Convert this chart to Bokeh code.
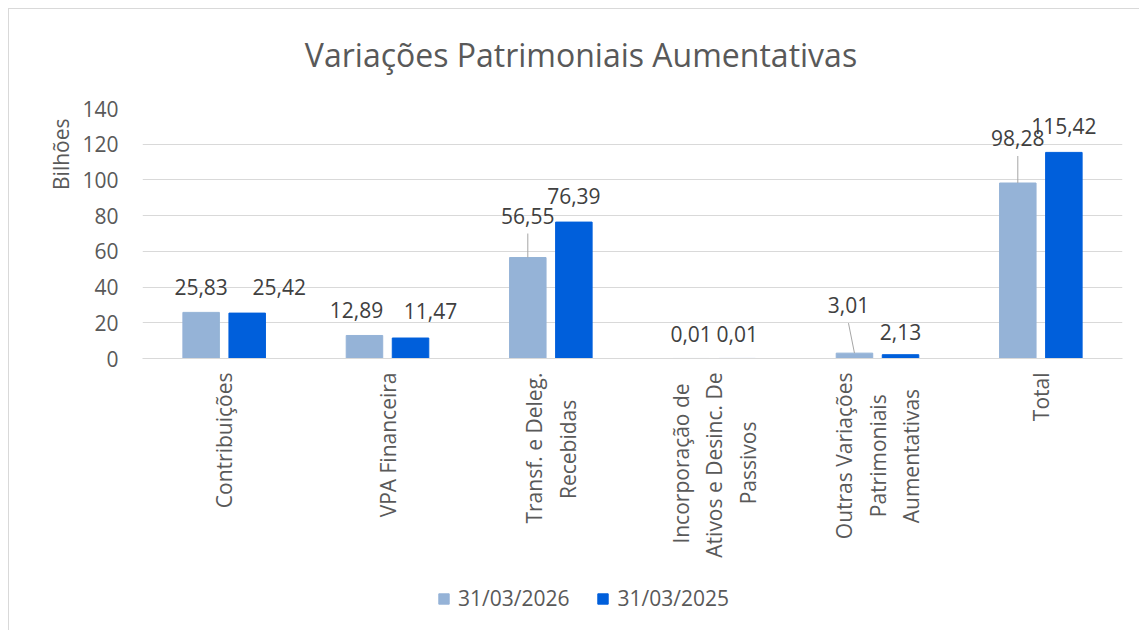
import math, glob, subprocess
from bokeh.plotting import figure
from bokeh.layouts import column
from bokeh.models import (ColumnDataSource, FactorRange, Range1d, FixedTicker,
                          Label, LabelSet, Legend, LegendItem, Title)
from bokeh.transform import dodge
from bokeh.core.properties import value
from bokeh.embed import file_html
from bokeh.resources import INLINE

# ---- data ----
categories = [
    "Contribuições",
    "VPA Financeira",
    "Transf. e Deleg.\nRecebidas",
    "Incorporação de\nAtivos e Desinc. De\nPassivos",
    "Outras Variações\nPatrimoniais\nAumentativas",
    "Total",
]
series_names = ["31/03/2026", "31/03/2025"]
values_2026 = [25.83, 12.89, 56.55, 0.01, 3.01, 98.28]
values_2025 = [25.42, 11.47, 76.39, 0.01, 2.13, 115.42]
y_ticks = [0, 20, 40, 60, 80, 100, 120, 140]
title_text = "Variações Patrimoniais Aumentativas"
y_title = "Bilhões"

# ---- styling / layout (not data) ----
FONT = "Open Sans"
FS = 21
C_LIGHT = "#95B3D7"
C_DARK = "#005FDB"
TXT = "#595959"
LBL = "#404040"
GRID = "#D9D9D9"
BAR_W = 0.2235
DODGE = 0.141
# data label offsets (px): above bar top, and horizontal shift
lab_dy_26 = [25, 25, 42, 24, 48, 45]
lab_dx_26 = [0, -8, 0, 0, -6, 0]
lab_dy_25 = [26, 27, 26, 24, 23, 26]
lab_dx_25 = [32, 20, 0, 0, 0, 0]
leader_26 = [False, False, True, False, True, True]

FRAME_W, FRAME_H = 980, 250
Y_MAX = 140
px_to_y = Y_MAX / FRAME_H
px_to_x = 1.0 / (FRAME_W / len(categories))


def fmt(v):
    return f"{v:.2f}".replace(".", ",")


# --- centre the lines of multi-line category labels (Bokeh end-aligns them) ---
def _font_path():
    try:
        out = subprocess.run(["fc-match", "-f", "%{file}", FONT + ":style=Regular"],
                             capture_output=True, text=True, timeout=5).stdout.strip()
        if out:
            return out
    except Exception:
        pass
    hits = glob.glob("/usr/share/fonts/**/OpenSans*.ttf", recursive=True)
    return hits[0] if hits else None


_FP = _font_path()


def text_w(s):
    try:
        from PIL import ImageFont
        return ImageFont.truetype(_FP, FS).getlength(s)
    except Exception:
        return len(s) * 0.55 * FS


NBSP = "\u00a0"


def centred(label):
    lines = label.split("\n")
    if len(lines) == 1:
        return label
    ws = [text_w(l) for l in lines]
    sp = text_w(NBSP) or 0.26 * FS
    mw = max(ws)
    return "\n".join(l + NBSP * int(round((mw - w) / 2 / sp)) for l, w in zip(lines, ws))


factors = [centred(c) for c in categories]

src = ColumnDataSource(dict(
    cat=factors,
    v26=values_2026,
    v25=values_2025,
    t26=[fmt(v) for v in values_2026],
    t25=[fmt(v) for v in values_2025],
    dy26=lab_dy_26, dx26=lab_dx_26,
    dy25=lab_dy_25, dx25=lab_dx_25,
))

W = 1130
H_TITLE, H_MAIN, H_LEG = 80, 496, 45


def strip(h):
    f = figure(width=W, height=h, x_range=Range1d(0, 1), y_range=Range1d(0, 1),
               x_axis_type=None, y_axis_type=None, min_border=0,
               output_backend="svg", toolbar_location=None)
    f.outline_line_color = None
    f.grid.grid_line_color = None
    f.background_fill_color = "white"
    f.border_fill_color = "white"
    return f


# ---- title strip ----
t = strip(H_TITLE)
t.add_layout(Label(x=438.5, y=35, x_units="screen", y_units="screen", text=title_text,
                   text_align="center", text_baseline="alphabetic", text_font=FONT,
                   text_font_size="32px", text_color=TXT))

# ---- main chart ----
p = figure(
    x_range=FactorRange(*factors, range_padding=0),
    y_range=Range1d(0, Y_MAX),
    width=W, height=H_MAIN,
    min_border_left=133, min_border_right=17,
    min_border_top=19, min_border_bottom=H_MAIN - 19 - FRAME_H,
    output_backend="svg", toolbar_location=None,
)
p.outline_line_color = None
p.background_fill_color = "white"
p.border_fill_color = "white"

r26 = p.vbar(x=dodge("cat", -DODGE, range=p.x_range), top="v26", width=BAR_W,
             source=src, fill_color=C_LIGHT, line_color=C_LIGHT)
r25 = p.vbar(x=dodge("cat", DODGE, range=p.x_range), top="v25", width=BAR_W,
             source=src, fill_color=C_DARK, line_color=C_DARK)

# leader lines for displaced labels
lx0, lx1, ly0, ly1 = [], [], [], []
for i, c in enumerate(categories):
    if leader_26[i]:
        base = i + 0.5 - DODGE
        lx0.append(base + lab_dx_26[i] * px_to_x)
        ly0.append(values_2026[i] + (lab_dy_26[i] - 18) * px_to_y)
        lx1.append(base)
        ly1.append(values_2026[i])
p.segment(x0=lx0, y0=ly0, x1=lx1, y1=ly1, line_color="#A6A6A6", line_width=1)

# data labels
for fld, dy, dx, off in (("26", "dy26", "dx26", -DODGE), ("25", "dy25", "dx25", DODGE)):
    p.add_layout(LabelSet(x=dodge("cat", off, range=p.x_range), y="v" + fld, text="t" + fld,
                          y_offset=dy, x_offset=dx, source=src,
                          text_align="center", text_baseline="middle",
                          text_font=value(FONT), text_font_size=f"{FS}px", text_color=LBL))

# axes
p.yaxis.ticker = FixedTicker(ticks=y_ticks)
p.yaxis.axis_line_color = None
p.yaxis.major_tick_line_color = None
p.yaxis.minor_tick_line_color = None
p.yaxis.major_label_standoff = 18
p.yaxis.major_label_text_font = FONT
p.yaxis.major_label_text_font_size = f"{FS}px"
p.yaxis.major_label_text_color = TXT

p.xaxis.axis_line_color = GRID
p.xaxis.major_tick_line_color = None
p.xaxis.minor_tick_line_color = None
p.xaxis.major_label_orientation = math.pi / 2
p.xaxis.major_label_standoff = 8
p.xaxis.major_label_text_font = FONT
p.xaxis.major_label_text_font_size = f"{FS}px"
p.xaxis.major_label_text_color = TXT

p.xgrid.grid_line_color = None
p.ygrid.grid_line_color = GRID
p.ygrid.grid_line_width = 1

# y-axis title at the upper end of the axis
p.add_layout(Title(text=y_title, align="right", offset=10, standoff=10,
                   text_font=FONT, text_font_size=f"{FS}px", text_font_style="normal",
                   text_color=TXT), "left")

# ---- legend strip ----
q = strip(H_LEG)
swatch = ColumnDataSource(dict(x=[-10.0], top=[0.0]))
g26 = q.vbar(x="x", top="top", width=0.001, source=swatch, fill_color=C_LIGHT, line_color=C_LIGHT)
g25 = q.vbar(x="x", top="top", width=0.001, source=swatch, fill_color=C_DARK, line_color=C_DARK)
legend = Legend(items=[LegendItem(label=series_names[0], renderers=[g26]),
                       LegendItem(label=series_names[1], renderers=[g25])],
                orientation="horizontal", location=(295, 18),
                glyph_width=13, glyph_height=13, label_standoff=8, spacing=27,
                padding=0, margin=0, border_line_color=None, background_fill_alpha=0,
                label_text_font=FONT, label_text_font_size=f"{FS}px", label_text_color=TXT)
q.add_layout(legend)

layout = column(t, p, q, spacing=0)
layout.styles = {"margin-left": "8px", "margin-top": "8px",
                 "border-top": "1px solid #D9D9D9", "border-left": "1px solid #D9D9D9"}

open("out.html", "w").write(file_html(layout, INLINE))
